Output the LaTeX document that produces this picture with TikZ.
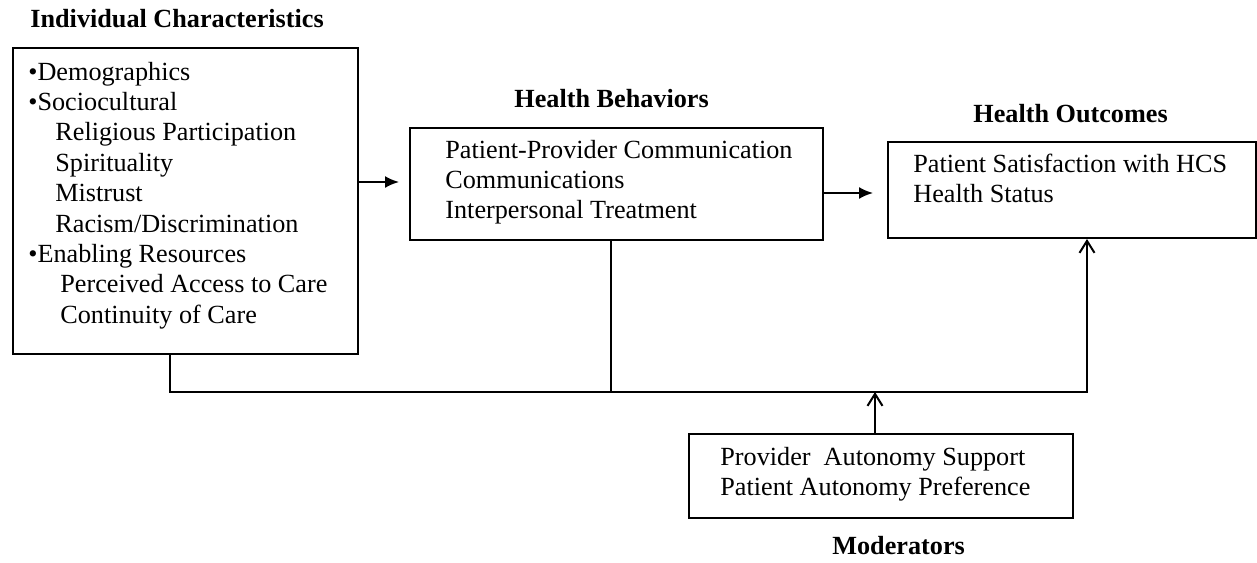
\documentclass[tikz,border=0pt]{standalone}
\usepackage{fontspec}
\setmainfont{Liberation Serif}
\usetikzlibrary{positioning,arrows.meta}

\tikzset{
  box/.style={draw, line width=1pt, inner sep=0pt, anchor=north west},
  % multi-line text: anchored at the baseline of its last line
  txt/.style={anchor=base west, inner sep=0pt, align=left,
    font=\fontsize{13.1}{15.2}\selectfont},
  heading/.style={anchor=base west, inner sep=0pt,
    font=\fontsize{13.1}{15.2}\selectfont\bfseries},
  link/.style={line width=1pt},
  fwd/.style={link, -{Latex[length=7pt,width=6pt]}},
  mod/.style={link, -{Straight Barb[length=6pt,width=7.5pt]}}
}

\begin{document}
\begin{tikzpicture}[x=0.5pt,y=-0.5pt]
  \useasboundingbox (0,0) rectangle (1257,562);
  % boxes
  \node[box, minimum width=172.5pt, minimum height=153pt] (indiv) at (12,47) {};
  \node[box, minimum width=206.5pt, minimum height=56pt] (behav) at (409,127) {};
  \node[box, minimum width=184pt, minimum height=48pt] (outc) at (887,141) {};
  \node[box, minimum width=192pt, minimum height=42pt] (moder) at (688,433) {};
  % headings
  \node[heading] (indivhead) at (30,27) {Individual Characteristics};
  \node[heading] (behavhead) at (514,107) {Health Behaviors};
  \node[heading] (outchead) at (973,122) {Health Outcomes};
  \node[heading] (moderhead) at (832,554) {Moderators};
  % contents
  \node[txt] (indivtxt) at (28,323.2) {\textbullet Demographics\\
    \textbullet Sociocultural\\
    \hspace*{13.5pt}Religious Participation\\
    \hspace*{13.5pt}Spirituality\\
    \hspace*{13.5pt}Mistrust\\
    \hspace*{13.5pt}Racism/Discrimination\\
    \textbullet Enabling Resources\\
    \hspace*{16pt}Perceived Access to Care\\
    \hspace*{16pt}Continuity of Care};
  \node[txt] (behavtxt) at (445,218.8) {Patient-Provider Communication\\
    Communications\\
    Interpersonal Treatment};
  \node[txt] (outctxt) at (913,202.4) {Patient Satisfaction with HCS\\
    Health Status};
  \node[txt] (modertxt) at (720,495.4) {Provider\ \ Autonomy Support\\
    Patient Autonomy Preference};
  % levels of the connectors
  \coordinate (lvl1) at (0,182);
  \coordinate (lvl2) at (0,193);
  \coordinate (bus) at (0,392);
  \coordinate (up) at (1087,0);
  \draw[fwd, shorten >=5pt] (indiv.east |- lvl1) -- (behav.west |- lvl1);
  \draw[fwd, shorten >=7pt] (behav.east |- lvl2) -- (outc.west |- lvl2);
  \draw[mod] ([xshift=79pt]indiv.south west) |- (bus -| up) -- (outc.south -| up);
  \draw[link] ([xshift=-3pt]behav.south) -- ([xshift=-3pt]behav.south |- bus);
  \draw[mod] ([xshift=-3pt]moder.north) -- ([xshift=-3pt]moder.north |- bus);
\end{tikzpicture}
\end{document}
